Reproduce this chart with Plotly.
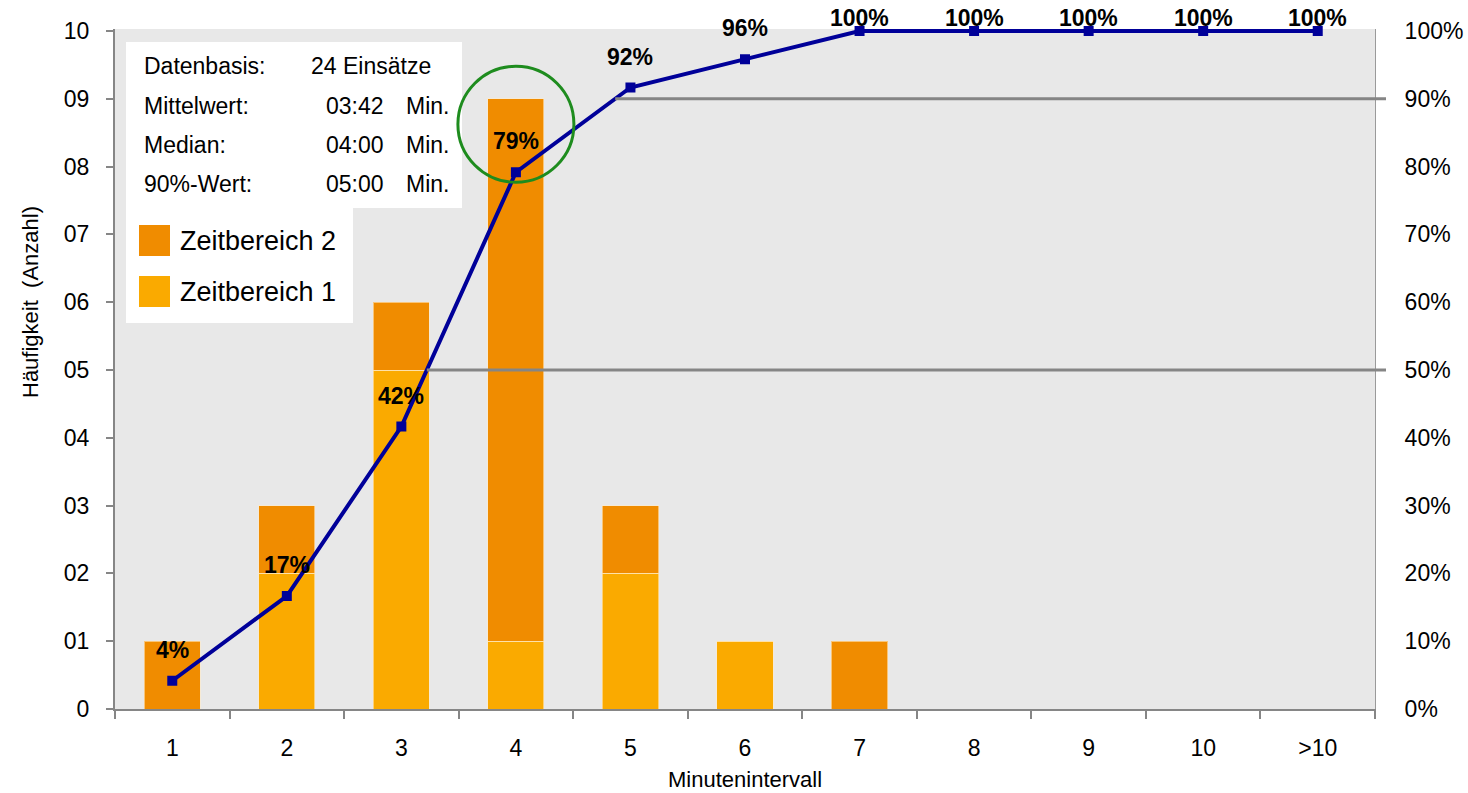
import plotly.graph_objects as go

# Minute intervals and counts per time range
categories = ["1", "2", "3", "4", "5", "6", "7", "8", "9", "10", ">10"]
zeitbereich_1 = [0, 2, 5, 1, 2, 1, 0, 0, 0, 0, 0]
zeitbereich_2 = [1, 1, 1, 8, 1, 0, 1, 0, 0, 0, 0]

y_ticks = [0, 1, 2, 3, 4, 5, 6, 7, 8, 9, 10]
y_ticktext = ["0", "01", "02", "03", "04", "05", "06", "07", "08", "09", "10"]

info_rows = [
    ("Datenbasis:", "24 Einsätze", ""),
    ("Mittelwert:", "03:42", "Min."),
    ("Median:", "04:00", "Min."),
    ("90%-Wert:", "05:00", "Min."),
]
reference_levels = [0.5, 0.9]

COL_Z1 = "#FAAA00"
COL_Z2 = "#F08C00"
COL_LINE = "#000099"
COL_AXIS = "#868686"
FONT = "Liberation Sans, Arial, sans-serif"

# cumulative share of all missions
totals = [a + b for a, b in zip(zeitbereich_1, zeitbereich_2)]
n_total = sum(totals)
cum_share = []
run = 0
for t in totals:
    run += t
    cum_share.append(run / n_total)

# figure and plot area geometry in pixels
W, H = 1468, 793
L, R, B = 115, 93, 84
TOP_PX = 31            # pixel row of the 10 / 100 % level
HEAD = 2               # small headroom so the 100 % line is not clipped
T = TOP_PX - HEAD
PW = W - L - R
SCALE_PX = H - B - TOP_PX          # pixels for 10 counts / 100 %
Y_MAX = 10 * (SCALE_PX + HEAD) / SCALE_PX
PH = H - B - T


def dx(px):
    return (px - L) / PW


def dy(py):
    return (H - B - py) / PH


fig = go.Figure()
bar_edge = dict(color="rgba(255,235,200,0.6)", width=1)
fig.add_trace(go.Bar(
    x=categories, y=zeitbereich_1, name="Zeitbereich 1",
    marker=dict(color=COL_Z1, line=bar_edge), showlegend=False,
))
fig.add_trace(go.Bar(
    x=categories, y=zeitbereich_2, name="Zeitbereich 2",
    marker=dict(color=COL_Z2, line=bar_edge), showlegend=False,
))
fig.add_trace(go.Scatter(
    x=categories, y=cum_share, yaxis="y2", mode="lines+markers",
    line=dict(color=COL_LINE, width=4),
    marker=dict(symbol="square", size=10, color=COL_LINE),
    showlegend=False, cliponaxis=False,
))

annotations = []
# percentage labels above the cumulative points
for i, v in enumerate(cum_share):
    annotations.append(dict(
        x=i, y=v, xref="x", yref="y2",
        text=f"{round(v * 100)}%", showarrow=False,
        yshift=13 if v >= 0.999 else 31,
        font=dict(family=FONT, size=23, color="black", weight="bold"),
    ))

shapes = []
# white boxes for the summary table and the legend
shapes.append(dict(type="rect", xref="paper", yref="paper",
                   x0=dx(126), x1=dx(462), y0=dy(208), y1=dy(42),
                   fillcolor="white", line=dict(width=0), layer="above"))
shapes.append(dict(type="rect", xref="paper", yref="paper",
                   x0=dx(126), x1=dx(353), y0=dy(323), y1=dy(207),
                   fillcolor="white", line=dict(width=0), layer="above"))

info_font = dict(family=FONT, size=23, color="black")
for r, (lab, val, unit) in enumerate(info_rows):
    yc = dy(66 + r * 39.5)
    annotations.append(dict(x=dx(142), y=yc, xref="paper", yref="paper", text=lab,
                            xanchor="left", yanchor="middle", showarrow=False, font=info_font))
    annotations.append(dict(x=dx(309 if unit == "" else 324), y=yc, xref="paper", yref="paper",
                            text=val, xanchor="left", yanchor="middle", showarrow=False,
                            font=info_font))
    if unit:
        annotations.append(dict(x=dx(404), y=yc, xref="paper", yref="paper", text=unit,
                                xanchor="left", yanchor="middle", showarrow=False,
                                font=info_font))

# legend entries
legend_font = dict(family=FONT, size=27, color="black")
for k, (name, col) in enumerate([("Zeitbereich 2", COL_Z2), ("Zeitbereich 1", COL_Z1)]):
    top = 225 + k * 51
    shapes.append(dict(type="rect", xref="paper", yref="paper",
                       x0=dx(139), x1=dx(170), y0=dy(top + 31), y1=dy(top),
                       fillcolor=col, line=dict(width=0), layer="above"))
    annotations.append(dict(x=dx(178), y=dy(top + 16), xref="paper", yref="paper", text=name,
                            xanchor="left", yanchor="middle", showarrow=False, font=legend_font))

# gray reference lines from the crossing point of the cumulative curve
for lvl in reference_levels:
    for i in range(1, len(cum_share)):
        if cum_share[i - 1] < lvl <= cum_share[i]:
            pos = (i - 1) + (lvl - cum_share[i - 1]) / (cum_share[i] - cum_share[i - 1])
            break
    shapes.append(dict(type="line", xref="paper", yref="y2",
                       x0=(pos + 0.5) / len(categories), x1=dx(1386), y0=lvl, y1=lvl,
                       line=dict(color="#858585", width=3), layer="above"))

# green highlight around the 79 % point
hi = 3
shapes.append(dict(type="circle", xref="x", yref="y2",
                   xsizemode="pixel", ysizemode="pixel",
                   xanchor=hi, yanchor=cum_share[hi],
                   x0=-58, x1=58, y0=-10, y1=106,
                   line=dict(color="#1E8C1E", width=3), layer="above"))

# y axis title
annotations.append(dict(x=dx(30), y=dy(302), xref="paper", yref="paper",
                        text="Häufigkeit  (Anzahl)", textangle=-90, showarrow=False,
                        xanchor="center", yanchor="middle",
                        font=dict(family=FONT, size=22, color="black")))

# x axis title
annotations.append(dict(x=0.5, y=dy(779), xref="paper", yref="paper",
                        text="Minutenintervall", showarrow=False,
                        xanchor="center", yanchor="middle",
                        font=dict(family=FONT, size=22, color="black")))

tick_font = dict(family=FONT, size=23, color="black")

fig.update_layout(
    width=W, height=H,
    margin=dict(l=L, r=R, t=T, b=B, pad=0, autoexpand=False),
    paper_bgcolor="white", plot_bgcolor="#E8E8E8",
    barmode="stack", bargap=0.51,
    shapes=shapes, annotations=annotations,
    xaxis=dict(
        type="category", categoryorder="array", categoryarray=categories,
        range=[-0.5, len(categories) - 0.5], automargin=False,
        showline=True, linecolor=COL_AXIS, linewidth=2,
        ticks="outside", tickson="boundaries", ticklen=8, tickwidth=2, tickcolor=COL_AXIS,
        tickfont=tick_font, ticklabelstandoff=17,
        showgrid=False, zeroline=False,
    ),
    yaxis=dict(
        range=[0, Y_MAX], tickvals=y_ticks, ticktext=y_ticktext, automargin=False,
        showline=True, linecolor=COL_AXIS, linewidth=2,
        ticks="outside", ticklen=7, tickwidth=2, tickcolor=COL_AXIS,
        tickfont=tick_font, ticklabelstandoff=12,
        showgrid=False, zeroline=False,
    ),
    yaxis2=dict(
        overlaying="y", side="right", range=[0, Y_MAX / 10], automargin=False,
        tickvals=[i / 10 for i in range(11)], tickformat=".0%",
        showline=True, linecolor="#9A9A9A", linewidth=1,
        ticks="", tickfont=tick_font, ticklabelstandoff=24,
        showgrid=False, zeroline=False,
    ),
)

fig.write_html("out.html")
